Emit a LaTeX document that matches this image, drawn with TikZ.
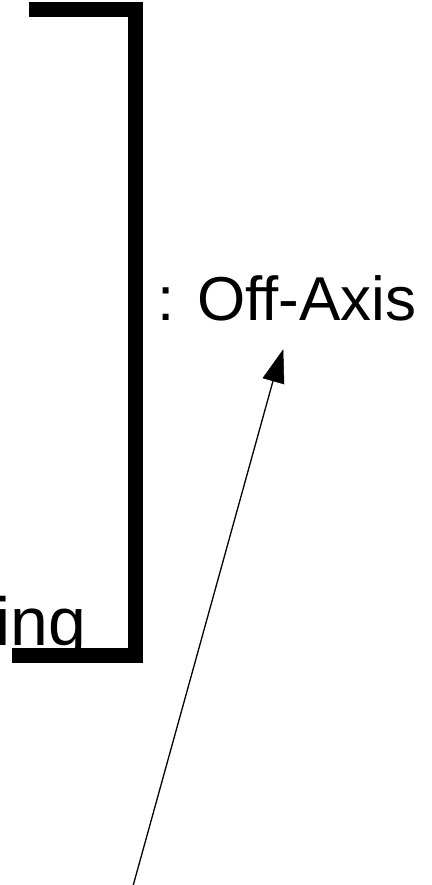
\documentclass[tikz,border=0pt]{standalone}
\usepackage{fontspec}
\setmainfont{Liberation Sans}
\begin{document}
\begin{tikzpicture}[x=1pt,y=-1pt,
  bracket/.style={line width=15pt,line join=miter,line cap=butt},
  lbl/.style={inner sep=0pt,outer sep=0pt},
  pointer/.style={line width=1.3pt},
  tip/.style={fill=black,draw=black,line width=0.5pt,line join=miter}]
\useasboundingbox (0,0) rectangle (431,885);
\clip (0,0) rectangle (431,885);
\node[lbl,anchor=base west,font=\fontsize{62}{70}\selectfont] (off) at (157,320) {: Off-Axis};
\node[lbl,anchor=base west,font=\fontsize{68}{76}\selectfont] (ing) at (-4.5,645) {ing};
\coordinate (bt) at (29,9.5);
\coordinate (bc1) at (135,9.5);
\coordinate (bc2) at (135,655);
\coordinate (bb) at (12,655);
\draw[bracket] (bt) -- (bc1) -- (bc2) -- (bb);
\coordinate (tail) at (133,886);
\coordinate (headbase) at (273,381);
\coordinate (tipA) at (283,350);
\coordinate (tipB) at (263,378);
\coordinate (tipC) at (284,384);
\draw[pointer] (tail) -- (headbase);
\filldraw[tip] (tipA) -- (tipB) -- (tipC) -- cycle;
\end{tikzpicture}
\end{document}
